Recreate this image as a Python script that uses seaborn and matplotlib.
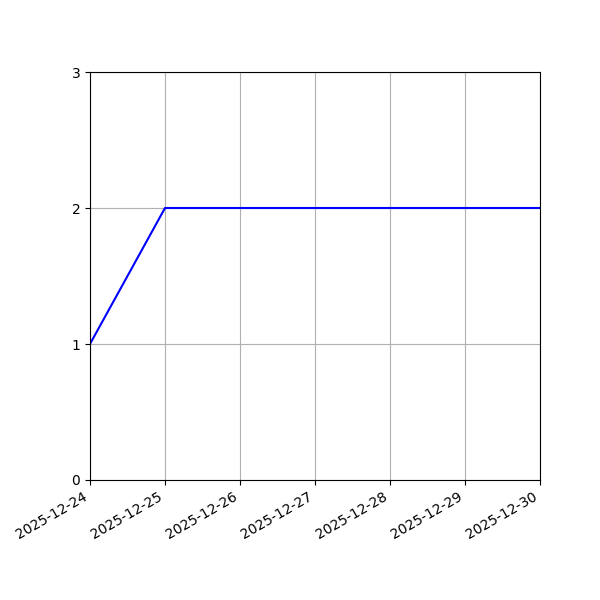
import matplotlib

matplotlib.use("Agg")
import matplotlib.dates as mdates
import matplotlib.pyplot as plt
import pandas as pd
import seaborn as sns

dates = ["2025-12-24", "2025-12-25", "2025-12-26", "2025-12-27",
         "2025-12-28", "2025-12-29", "2025-12-30"]
counts = [1, 2, 2, 2, 2, 2, 2]

df = pd.DataFrame({"date": pd.to_datetime(dates), "count": counts})

fig, ax = plt.subplots(figsize=(6, 6), dpi=100)
sns.lineplot(data=df, x="date", y="count", ax=ax, color="blue", linewidth=1.5)
ax.set_xlim(df["date"].min(), df["date"].max())
ax.set_ylim(0, 3)
ax.set_yticks([0, 1, 2, 3])
ax.xaxis.set_major_locator(mdates.DayLocator())
ax.xaxis.set_major_formatter(mdates.DateFormatter("%Y-%m-%d"))
ax.set_xlabel("")
ax.set_ylabel("")
ax.grid(True)
fig.autofmt_xdate()
fig.subplots_adjust(left=0.15, right=0.9, bottom=0.2, top=0.88)
fig.savefig("out.png", dpi=100)
